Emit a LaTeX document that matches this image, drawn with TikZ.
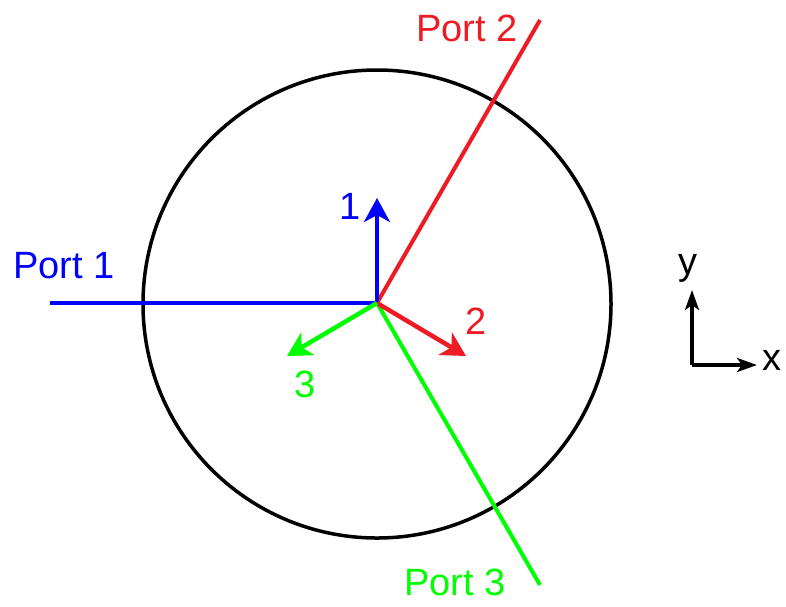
\documentclass[tikz,border=0pt]{standalone}
\usepackage{fontspec}
\setmainfont{Liberation Sans}
\usetikzlibrary{arrows.meta}
\definecolor{pblue}{RGB}{0,0,255}
\definecolor{pred}{RGB}{237,28,36}
\definecolor{pgreen}{RGB}{0,255,0}
\begin{document}
\begin{tikzpicture}[x=1pt,y=-1pt,
  lbl/.style={font=\fontsize{38}{42}\selectfont, inner sep=0pt},
  portline/.style={line width=4pt},
  vec/.style={line width=4.5pt, -{Stealth[length=24pt,width=26pt,inset=7pt]}},
  axis/.style={line width=3.5pt, -{Stealth[length=20pt,width=14pt,inset=5pt]}}]
\useasboundingbox (0,0) rectangle (786,606);
\coordinate (o) at (377,303);
\node[draw, circle, line width=3.5pt, minimum size=468pt, inner sep=0pt] (c) at (377,304) {};
\coordinate (p1) at (50,303);
\coordinate (p2) at (540,20);
\coordinate (p3) at (540,585);
\draw[portline, pblue] (p1) -- (o);
\draw[portline, pred] (o) -- (p2);
\draw[portline, pgreen] (o) -- (p3);
\coordinate (v1) at (377,198);
\coordinate (v2) at (466,356);
\coordinate (v3) at (287,356);
\draw[vec, pblue] (o) -- (v1);
\draw[vec, pred] (o) -- (v2);
\draw[vec, pgreen] (o) -- (v3);
\node[lbl, text=pblue] (l1) at (350,206) {1};
\node[lbl, text=pred] (l2) at (476,321) {2};
\node[lbl, text=pgreen] (l3) at (305,384) {3};
\node[lbl, text=pblue] (n1) at (64,266) {Port 1};
\node[lbl, text=pred] (n2) at (467,28) {Port 2};
\node[lbl, text=pgreen] (n3) at (455,582) {Port 3};
\coordinate (ax) at (692,365);
\coordinate (ay) at (692,290);
\coordinate (axx) at (757,365);
\draw[axis] (ax) -- (ay);
\draw[axis] (ax) -- (axx);
\node[lbl] (ly) at (688,268) {y};
\node[lbl] (lx) at (772,360) {x};
\end{tikzpicture}
\end{document}
